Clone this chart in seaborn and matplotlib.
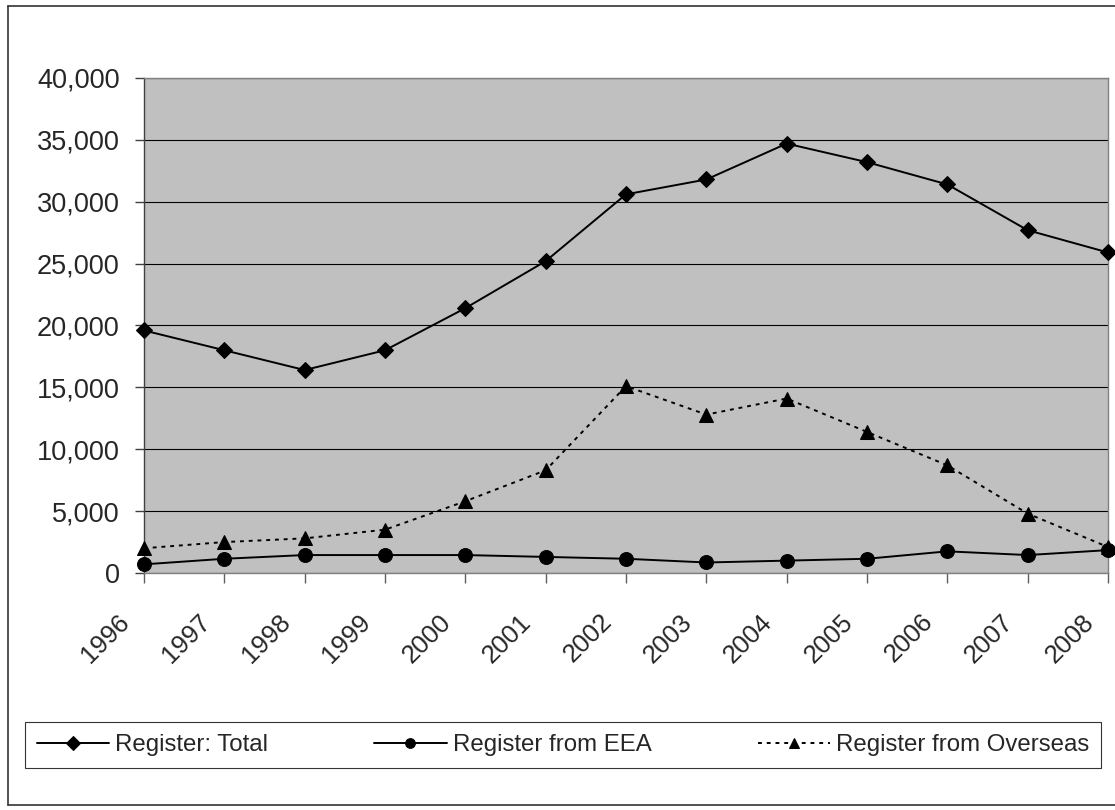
import matplotlib
matplotlib.use("Agg")
import matplotlib.pyplot as plt
import matplotlib.transforms as mtransforms
import seaborn as sns
import pandas as pd
from matplotlib.ticker import FuncFormatter, MultipleLocator
from matplotlib.lines import Line2D

# ---------------------------------------------------------
# Daten
# ---------------------------------------------------------
years = ["1996", "1997", "1998", "1999", "2000", "2001", "2002",
         "2003", "2004", "2005", "2006", "2007", "2008"]
total = [19600, 18000, 16400, 18000, 21400, 25200, 30600,
         31800, 34700, 33200, 31400, 27700, 25900]
eea = [700, 1150, 1450, 1450, 1450, 1300, 1150,
       850, 1000, 1150, 1750, 1450, 1850]
overseas = [2000, 2500, 2800, 3500, 5800, 8300, 15100,
            12800, 14100, 11400, 8700, 4800, 2100]

labels = ["Register: Total", "Register from EEA", "Register from Overseas"]

df = pd.DataFrame({"idx": range(len(years)), "total": total,
                   "eea": eea, "overseas": overseas})

# ---------------------------------------------------------
# Style
# ---------------------------------------------------------
sns.set_style("white")
plt.rcParams["font.family"] = ["Liberation Sans", "DejaVu Sans"]

W, H = 1115, 810
fig = plt.figure(figsize=(W / 100, H / 100), dpi=100)
ax = fig.add_axes([144 / W, 1 - 573 / H, (1108 - 144) / W, (573 - 78) / H])
ax.set_facecolor("#C0C0C0")

sns.lineplot(data=df, x="idx", y="total", ax=ax, color="black", lw=1.4,
             marker="D", markersize=8, markeredgecolor="black",
             clip_on=False, zorder=5, label=labels[0])
sns.lineplot(data=df, x="idx", y="eea", ax=ax, color="black", lw=1.4,
             marker="o", markersize=10, markeredgecolor="black",
             clip_on=False, zorder=5, label=labels[1])
sns.lineplot(data=df, x="idx", y="overseas", ax=ax, color="black", lw=1.4,
             linestyle=(0, (2, 2.5)), marker="^", markersize=10.5,
             markeredgecolor="black", clip_on=False, zorder=5, label=labels[2])

ax.set_xlim(0, len(years) - 1)
ax.set_ylim(0, 40000)
ax.yaxis.set_major_locator(MultipleLocator(5000))
ax.yaxis.set_major_formatter(FuncFormatter(lambda v, p: f"{int(v):,}"))
ax.set_xticks(range(len(years)))
ax.set_xticklabels(years, rotation=45, ha="right", va="baseline",
                   rotation_mode="anchor")
ax.set_xlabel("")
ax.set_ylabel("")

ax.grid(axis="y", color="black", lw=0.8)
ax.grid(axis="x", visible=False)
ax.set_axisbelow(True)
for s in ax.spines.values():
    s.set_color("#808080")
    s.set_linewidth(1)
ax.spines["left"].set_color("#404040")
ax.tick_params(axis="y", length=6.5, width=1, color="#404040", labelsize=19.5,
               pad=11, left=True)
ax.tick_params(axis="x", length=7, width=1, color="#606060", labelsize=18.5,
               pad=29, bottom=True)

# Beschriftung etwas nach links schieben (nach tick_params, sonst wird es zurueckgesetzt)
shift = mtransforms.ScaledTranslation(-0.13, 0, fig.dpi_scale_trans)
for t in ax.get_xticklabels():
    t.set_transform(t.get_transform() + shift)

# Legende unten
ax.get_legend().remove()
handles, lbls = ax.get_legend_handles_labels()
leg = fig.legend(handles, lbls, loc="lower left",
                 bbox_to_anchor=(25 / W, 1 - 768 / H, (1101 - 25) / W, 48 / H),
                 mode="expand", ncol=3, frameon=True, fancybox=False,
                 fontsize=17.3, handlelength=3, handletextpad=0.25,
                 borderaxespad=0, borderpad=0.5)
leg.get_frame().set_edgecolor("black")
leg.get_frame().set_linewidth(0.8)
for h in leg.legend_handles:
    h.set_markersize(7)

# Rahmen um das Diagramm
fc = "#333333"
fig.add_artist(Line2D([8 / W, 8 / W], [1 - 805 / H, 1 - 6 / H],
                      transform=fig.transFigure, color=fc, lw=1.2))
fig.add_artist(Line2D([8 / W, 1], [1 - 6 / H, 1 - 6 / H],
                      transform=fig.transFigure, color=fc, lw=1.2))
fig.add_artist(Line2D([8 / W, 1], [1 - 805 / H, 1 - 805 / H],
                      transform=fig.transFigure, color=fc, lw=1.2))

plt.savefig("out.png", dpi=100)
plt.close()
